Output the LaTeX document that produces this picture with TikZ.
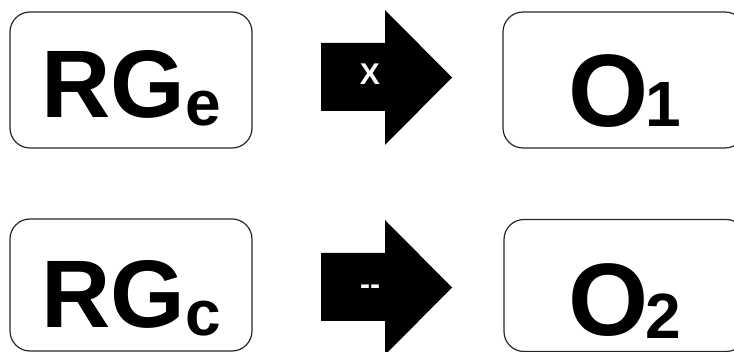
\documentclass[tikz,border=0pt]{standalone}
\usepackage{fontspec}
\setmainfont{Liberation Sans}
\begin{document}
\begin{tikzpicture}[x=1pt,y=-1pt,
  panel/.style={draw=black!85,line width=1.2pt,rounded corners=20pt,
    minimum width=242pt,inner sep=0pt},
  bigtext/.style={anchor=base west,inner sep=0pt,font=\bfseries},
  blockarrow/.style={fill=black},
  arrowtag/.style={text=white,inner sep=0pt,
    font=\fontsize{30}{30}\selectfont\bfseries}]
\useasboundingbox (0,0) rectangle (734,352);
\newcommand{\bigsz}{\fontsize{96}{96}\selectfont}
\newcommand{\osz}{\fontsize{103}{103}\selectfont}
\newcommand{\subsz}{\fontsize{64}{64}\selectfont}

% boxes
\node[panel,minimum height=136pt] (re) at (131,80) {};
\node[panel,minimum height=136pt] (o1) at (624,80) {};
\node[panel,minimum height=132pt] (rc) at (131,285) {};
\node[panel,minimum height=132pt] (o2) at (625,285.5) {};

% labels inside the boxes
\node[bigtext] (tre) at (41,118) {\bigsz RG\subsz\raisebox{-8pt}{e}};
\node[bigtext] (trc) at (41,328) {\bigsz RG\subsz\raisebox{-8pt}{c}};
\node[bigtext] (to1) at (568,127) {\osz O\hspace{-3pt}\subsz 1};
\node[bigtext] (to2) at (568,336) {\osz O\hspace{-3pt}\subsz\raisebox{-3pt}{2}};

% block arrows
\coordinate (a1) at (321,77.5);
\fill[blockarrow] (a1) ++(0,-34.5) -- ++(64,0) -- ++(0,-33) -- (452,77.5)
  -- (385,145) -- ++(0,-34) -- (321,111) -- cycle;
\node[arrowtag] (x1) at (370,74.5) {X};

\coordinate (a2) at (321,287.5);
\fill[blockarrow] (a2) ++(0,-34.5) -- ++(64,0) -- ++(0,-33) -- (452,287.5)
  -- (385,355) -- ++(0,-34) -- (321,321) -- cycle;
\node[arrowtag] (x2) at (370,290) {-{}-};
\end{tikzpicture}
\end{document}
